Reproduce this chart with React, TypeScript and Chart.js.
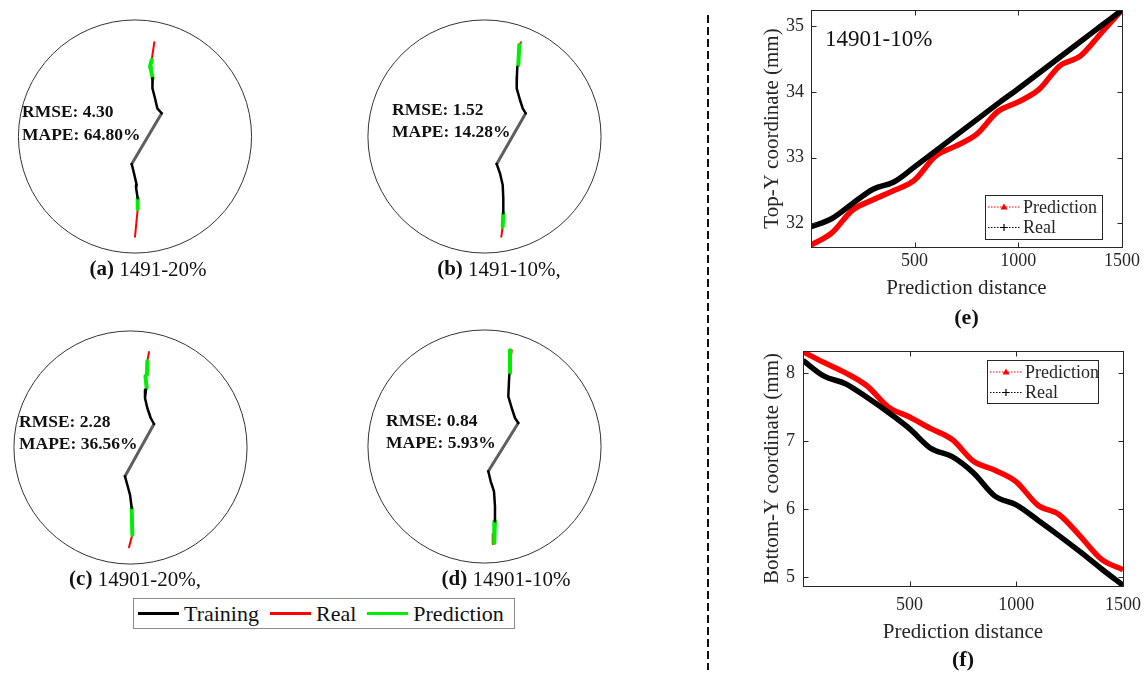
import React, { useEffect, useRef } from "react";
import { Chart, registerables } from "chart.js";

Chart.register(...registerables);

const SERIF = "'Liberation Serif', 'Times New Roman', Times, serif";

// ---------------- Left panels: crack traces (mm, crack origin 0,0) ----------------
type Pt = [number, number] | null;
const specimenRadiusMm = 47;
const specimenCentreX = [-2.82, -8.27, -3.43, -6.25];
const specimenCentreY = [1.41, 1.41, 0.6, 0.2];

const crackA_training: Pt[] = [[4.31, 24.88], [4.1, 22.6], [4.31, 20.85], [5.24, 16.81], [6.17, 12.78], [7.94, 10.77], null, [-4.15, -9.68], [-3.23, -13.43], [-2.14, -18.15], [-2.4, -19.3], [-1.73, -23.51]];
const crackA_notch: Pt[] = [[7.94, 10.77], [-4.15, -9.68]];
const crackA_prediction: Pt[] = [[3.91, 32.26], [3.23, 29.56], [3.6, 28.4], [4.31, 24.88], null, [-1.73, -23.51], [-1.73, -27.82]];
const crackA_real: Pt[] = [[4.96, 39.4], [3.91, 32.26], null, [-1.73, -27.82], [-2.82, -38.99]];

const crackB_training: Pt[] = [[4.96, 29.56], [4.8, 25.5], [4.72, 20.85], [6.05, 16.13], [7.14, 12.78], [8.35, 10.77], null, [-3.35, -9.68], [-2.02, -13.43], [-0.93, -18.15], [-0.69, -23.51], [-0.69, -29.56]];
const crackB_notch: Pt[] = [[8.35, 10.77], [-3.35, -9.68]];
const crackB_prediction: Pt[] = [[5.77, 38.31], [5.36, 30.24], null, [-0.69, -29.56], [-0.93, -34.96]];
const crackB_real: Pt[] = [[6.45, 39.4], [5.77, 38.31], null, [-0.93, -34.96], [-1.49, -38.99]];

const crackC_training: Pt[] = [[2.82, 23.91], [2.42, 20.56], [3.35, 16.53], [4.72, 12.5], [6.05, 10.08], null, [-5.65, -11.0], [-4.72, -14.4], [-3.63, -18.43], [-2.94, -23.79]];
const crackC_notch: Pt[] = [[6.05, 10.08], [-5.65, -11.0]];
const crackC_prediction: Pt[] = [[3.35, 35.36], [3.2, 30.0], [2.6, 29.4], [3.1, 24.6], null, [-2.94, -23.79], [-2.7, -34.56]];
const crackC_real: Pt[] = [[4.03, 39.11], [3.35, 35.36], null, [-2.7, -34.56], [-4.03, -39.64]];

const crackD_training: Pt[] = [[3.75, 29.15], [3.35, 20.44], [4.72, 15.73], [6.05, 11.69], [7.38, 9.68], null, [-4.72, -9.8], [-3.75, -13.83], [-2.42, -17.86], [-2.02, -23.91], [-2.02, -29.96]];
const crackD_notch: Pt[] = [[7.38, 9.68], [-4.72, -9.8]];
const crackD_prediction: Pt[] = [[4.03, 38.99], [4.03, 29.84], null, [-2.02, -29.96], [-2.3, -38.71]];
const crackD_real: Pt[] = [[4.72, 38.99], [4.44, 36.69], null, [-2.94, -35.08], [-2.94, -39.11]];

const panelLetters = ["(a)", "(b)", "(c)", "(d)"];
const panelCases = ["1491-20%", "1491-10%,", "14901-20%,", "14901-10%"];
const panelRmse = ["4.30", "1.52", "2.28", "0.84"];
const panelMape = ["64.80%", "14.28%", "36.56%", "5.93%"];

const crackLegendLabels = ["Training", "Real", "Prediction"];
const crackLegendColors = ["#000000", "#ff0000", "#00ee00"];

// ---------------- Right panels: predicted vs real coordinates ----------------
const predictionDistance = [1, 100, 200, 300, 400, 500, 600, 700, 800, 900, 1000, 1100, 1200, 1300, 1400, 1500];
const topYPrediction = [31.67, 31.85, 32.2, 32.36, 32.5, 32.66, 33.02, 33.18, 33.36, 33.7, 33.85, 34.04, 34.4, 34.55, 34.9, 35.25];
const topYReal = [31.95, 32.07, 32.3, 32.52, 32.63, 32.86, 33.1, 33.34, 33.58, 33.82, 34.05, 34.29, 34.53, 34.77, 35.01, 35.25];
const bottomYPrediction = [8.31, 8.15, 8.0, 7.81, 7.5, 7.35, 7.18, 7.02, 6.7, 6.57, 6.4, 6.06, 5.92, 5.6, 5.26, 5.11];
const bottomYReal = [8.18, 7.95, 7.84, 7.64, 7.42, 7.18, 6.89, 6.77, 6.53, 6.19, 6.06, 5.84, 5.61, 5.37, 5.12, 4.88];
const distanceTicks = [500, 1000, 1500];
const topYTicks = [32, 33, 34, 35];
const bottomYTicks = [5, 6, 7, 8];

// ---------------- Layout (pixels) ----------------
const PX_PER_MM = 2.48;
const PANEL_W = 290;
const PANEL_H = 310;
const PANEL_LEFT = 145;
const PANEL_TOP = 135;
const panelLayout = [
  { ox: 142, oy: 140, textX: 22, rmseY: 112, mapeY: 135, capX: 148, capY: 270 },
  { ox: 505, oy: 140, textX: 392, rmseY: 110, mapeY: 132, capX: 499, capY: 270 },
  { ox: 139, oy: 449, textX: 19, rmseY: 422, mapeY: 444, capX: 135, capY: 580 },
  { ox: 500, oy: 447, textX: 386, rmseY: 421, mapeY: 443, capX: 506, capY: 580 },
];

function toXY(pts: Pt[]) {
  return pts.map((p) => (p ? { x: p[0], y: p[1] } : { x: null, y: null }));
}

const specimenPlugin = {
  id: "specimen",
  beforeDatasetsDraw(chart: any, _args: any, opts: any) {
    const { ctx, scales } = chart;
    const cx = scales.x.getPixelForValue(opts.centreX);
    const cy = scales.y.getPixelForValue(opts.centreY);
    const r = scales.x.getPixelForValue(opts.centreX + specimenRadiusMm) - cx;
    ctx.save();
    ctx.beginPath();
    ctx.arc(cx, cy, r, 0, Math.PI * 2);
    ctx.lineWidth = 1;
    ctx.strokeStyle = "#333";
    ctx.stroke();
    ctx.restore();
  },
  afterDatasetsDraw(chart: any, _args: any, opts: any) {
    const { ctx } = chart;
    const dx = -opts.canvasLeft;
    const dy = -opts.canvasTop;
    ctx.save();
    ctx.fillStyle = "#111";
    ctx.textBaseline = "middle";
    ctx.textAlign = "left";
    ctx.font = `bold 17.5px ${SERIF}`;
    ctx.fillText(`RMSE: ${opts.rmse}`, opts.textX + dx, opts.rmseY + dy);
    ctx.fillText(`MAPE: ${opts.mape}`, opts.textX + dx, opts.mapeY + dy);
    // caption
    ctx.font = `bold 21px ${SERIF}`;
    const w1 = ctx.measureText(opts.letter + " ").width;
    ctx.font = `21px ${SERIF}`;
    const w2 = ctx.measureText(opts.caseText).width;
    const x0 = opts.capX + dx - (w1 + w2) / 2;
    const yc = opts.capY + dy;
    ctx.font = `bold 21px ${SERIF}`;
    ctx.fillText(opts.letter, x0, yc);
    ctx.font = `21px ${SERIF}`;
    ctx.fillText(opts.caseText, x0 + w1, yc);
    ctx.restore();
  },
};

function crackDataset(label: string, pts: Pt[], color: string, width: number) {
  return {
    label,
    data: toXY(pts),
    showLine: true,
    borderColor: color,
    backgroundColor: color,
    borderWidth: width,
    pointRadius: 0,
    borderCapStyle: "round",
    borderJoinStyle: "round",
    spanGaps: false,
    tension: 0,
  };
}

function CrackPanel({ index, training, notch, prediction, real }: any) {
  const ref = useRef<HTMLCanvasElement>(null);
  const lay = panelLayout[index];
  const canvasLeft = lay.ox - PANEL_LEFT;
  const canvasTop = lay.oy - PANEL_TOP;
  useEffect(() => {
    const k = PX_PER_MM;
    const chart = new Chart(ref.current as HTMLCanvasElement, {
      type: "scatter",
      data: {
        datasets: [
          crackDataset(crackLegendLabels[0], training, "#000000", 2.5),
          crackDataset("Notch", notch, "#5e5e5e", 3),
          crackDataset(crackLegendLabels[2], prediction, crackLegendColors[2], 4),
          crackDataset(crackLegendLabels[1], real, crackLegendColors[1], 2),
        ] as any,
      },
      options: {
        animation: false,
        responsive: false,
        events: [],
        layout: { padding: 0 },
        scales: {
          x: { type: "linear", display: false, min: -PANEL_LEFT / k, max: (PANEL_W - PANEL_LEFT) / k },
          y: { type: "linear", display: false, min: -(PANEL_H - PANEL_TOP) / k, max: PANEL_TOP / k },
        },
        plugins: {
          legend: { display: false },
          tooltip: { enabled: false },
          specimen: {
            rmse: panelRmse[index],
            mape: panelMape[index],
            letter: panelLetters[index],
            caseText: panelCases[index],
            centreX: specimenCentreX[index],
            centreY: specimenCentreY[index],
            canvasLeft,
            canvasTop,
            textX: lay.textX,
            rmseY: lay.rmseY,
            mapeY: lay.mapeY,
            capX: lay.capX,
            capY: lay.capY,
          },
        } as any,
      },
      plugins: [specimenPlugin as any],
    });
    return () => chart.destroy();
  }, []);
  return (
    <canvas
      ref={ref}
      width={PANEL_W}
      height={PANEL_H}
      style={{ position: "absolute", left: canvasLeft, top: canvasTop, width: PANEL_W, height: PANEL_H }}
    />
  );
}

function CrackLegend() {
  return (
    <div
      style={{
        position: "absolute",
        left: 133,
        top: 598,
        width: 382,
        height: 31,
        boxSizing: "border-box",
        border: "1px solid #8a8a8a",
        background: "#fff",
        display: "flex",
        alignItems: "center",
        paddingLeft: 4,
        fontFamily: SERIF,
        fontSize: 22,
        color: "#111",
        whiteSpace: "nowrap",
      }}
    >
      {crackLegendLabels.map((lab, i) => (
        <div key={lab} style={{ display: "flex", alignItems: "center", marginLeft: i === 0 ? 0 : 11 }}>
          <div style={{ width: 41, height: 3, background: crackLegendColors[i], marginRight: 5 }} />
          <span>{lab}</span>
        </div>
      ))}
    </div>
  );
}

// ---------------- Right charts ----------------
const matlabAxesPlugin = {
  id: "matlabAxes",
  afterDraw(chart: any, _args: any, opts: any) {
    const { ctx, chartArea: a, scales } = chart;
    const x = scales.x;
    const y = scales.y;
    ctx.save();
    ctx.strokeStyle = "#262626";
    ctx.lineWidth = 1;
    const L = Math.round(a.left) + 0.5;
    const T = Math.round(a.top) + 0.5;
    const R = Math.round(a.right) + 0.5;
    const B = Math.round(a.bottom) + 0.5;
    ctx.strokeRect(L, T, R - L, B - T);
    const tl = 5;
    ctx.beginPath();
    x.ticks.forEach((t: any) => {
      const px = Math.round(x.getPixelForValue(t.value)) + 0.5;
      ctx.moveTo(px, B);
      ctx.lineTo(px, B - tl);
      ctx.moveTo(px, T);
      ctx.lineTo(px, T + tl);
    });
    y.ticks.forEach((t: any) => {
      const py = Math.round(y.getPixelForValue(t.value)) + 0.5;
      ctx.moveTo(L, py);
      ctx.lineTo(L + tl, py);
      ctx.moveTo(R, py);
      ctx.lineTo(R - tl, py);
    });
    ctx.stroke();

    if (opts.inset) {
      ctx.fillStyle = "#111";
      ctx.font = `23px ${SERIF}`;
      ctx.textAlign = "left";
      ctx.textBaseline = "middle";
      ctx.fillText(opts.inset, a.left + 14, a.top + 30);
    }

    // legend
    const lb = opts.legendBox;
    ctx.fillStyle = "#fff";
    ctx.fillRect(lb.x, lb.y, lb.w, lb.h);
    ctx.strokeStyle = "#262626";
    ctx.strokeRect(lb.x + 0.5, lb.y + 0.5, lb.w, lb.h);
    chart.data.datasets.forEach((ds: any, i: number) => {
      const ry = lb.y + 12 + i * 20.5;
      ctx.save();
      ctx.setLineDash([1.5, 1.5]);
      ctx.strokeStyle = ds.borderColor;
      ctx.lineWidth = 1;
      ctx.beginPath();
      ctx.moveTo(lb.x + 3, ry);
      ctx.lineTo(lb.x + 35, ry);
      ctx.stroke();
      ctx.restore();
      const mx = lb.x + 19;
      if (ds.pointStyle === "triangle") {
        ctx.fillStyle = ds.borderColor;
        ctx.beginPath();
        ctx.moveTo(mx, ry - 3.5);
        ctx.lineTo(mx + 3.5, ry + 2.5);
        ctx.lineTo(mx - 3.5, ry + 2.5);
        ctx.closePath();
        ctx.fill();
      } else {
        ctx.strokeStyle = ds.borderColor;
        ctx.lineWidth = 1.2;
        ctx.beginPath();
        ctx.moveTo(mx - 3.5, ry);
        ctx.lineTo(mx + 3.5, ry);
        ctx.moveTo(mx, ry - 3.5);
        ctx.lineTo(mx, ry + 3.5);
        ctx.stroke();
      }
      ctx.fillStyle = "#262626";
      ctx.font = `18px ${SERIF}`;
      ctx.textAlign = "left";
      ctx.textBaseline = "middle";
      ctx.fillText(ds.label, lb.x + 38, ry + 1);
    });

    // panel caption
    ctx.fillStyle = "#111";
    ctx.font = `bold 22px ${SERIF}`;
    ctx.textAlign = "center";
    ctx.textBaseline = "middle";
    ctx.fillText(opts.caption, (a.left + a.right) / 2, opts.captionY);
    ctx.restore();
  },
};

function DistanceChart({ cfg }: any) {
  const ref = useRef<HTMLCanvasElement>(null);
  useEffect(() => {
    const tickFont = { family: SERIF, size: 18 };
    const titleFont = { family: SERIF, size: 21 };
    const chart = new Chart(ref.current as HTMLCanvasElement, {
      type: "line",
      data: {
        datasets: [
          {
            label: "Prediction",
            data: predictionDistance.map((d, i) => ({ x: d, y: cfg.prediction[i] })),
            borderColor: "#ff0000",
            backgroundColor: "#ff0000",
            borderWidth: 5.5,
            pointRadius: 0,
            pointStyle: "triangle",
            cubicInterpolationMode: "monotone",
            clip: 0,
            order: 1,
          },
          {
            label: "Real",
            data: predictionDistance.map((d, i) => ({ x: d, y: cfg.real[i] })),
            borderColor: "#000000",
            backgroundColor: "#000000",
            borderWidth: 5.5,
            pointRadius: 0,
            pointStyle: "cross",
            cubicInterpolationMode: "monotone",
            clip: 0,
            order: 0,
          },
        ] as any,
      },
      options: {
        animation: false,
        responsive: false,
        events: [],
        layout: { padding: cfg.padding },
        scales: {
          x: {
            type: "linear",
            min: 1,
            max: 1500,
            grid: { display: false, drawTicks: false },
            border: { display: false },
            afterBuildTicks: (s: any) => {
              s.ticks = distanceTicks.map((v) => ({ value: v }));
            },
            afterFit: (s: any) => {
              s.height = cfg.xHeight;
              s.paddingLeft = 0;
              s.paddingRight = 0;
            },
            ticks: {
              font: tickFont,
              color: "#262626",
              padding: cfg.xTickPad,
              maxRotation: 0,
              autoSkip: false,
              callback: (v: any) => String(v),
            },
            title: { display: true, text: "Prediction distance", font: titleFont, color: "#262626", padding: 0 },
          },
          y: {
            type: "linear",
            min: cfg.yMin,
            max: cfg.yMax,
            grid: { display: false, drawTicks: false },
            border: { display: false },
            afterBuildTicks: (s: any) => {
              s.ticks = cfg.yTicks.map((v: number) => ({ value: v }));
            },
            afterFit: (s: any) => {
              s.width = cfg.yWidth;
              s.paddingTop = 0;
              s.paddingBottom = 0;
            },
            ticks: { font: tickFont, color: "#262626", padding: cfg.yTickPad, autoSkip: false, callback: (v: any) => String(v) },
            title: { display: true, text: cfg.yTitle, font: titleFont, color: "#262626", padding: 0 },
          },
        },
        plugins: {
          legend: { display: false },
          tooltip: { enabled: false },
          matlabAxes: {
            inset: cfg.inset,
            legendBox: cfg.legendBox,
            caption: cfg.caption,
            captionY: cfg.captionY,
          },
        } as any,
      },
      plugins: [matlabAxesPlugin as any],
    });
    return () => chart.destroy();
  }, []);
  return (
    <canvas
      ref={ref}
      width={cfg.w}
      height={cfg.h}
      style={{ position: "absolute", left: cfg.left, top: cfg.top, width: cfg.w, height: cfg.h }}
    />
  );
}

const topChartCfg = {
  left: 700,
  top: 0,
  w: 446,
  h: 330,
  padding: { left: 60, top: 10, right: 24, bottom: 29.4 },
  yWidth: 51,
  xHeight: 53.6,
  xTickPad: 3,
  yTickPad: 7,
  yMin: 31.64,
  yMax: 35.25,
  yTicks: topYTicks,
  yTitle: "Top-Y coordinate (mm)",
  prediction: topYPrediction,
  real: topYReal,
  inset: "14901-10%",
  legendBox: { x: 285, y: 195, w: 117, h: 44 },
  caption: "(e)",
  captionY: 318,
};

const bottomChartCfg = {
  left: 700,
  top: 330,
  w: 446,
  h: 348,
  padding: { left: 59.4, top: 21, right: 23, bottom: 33.4 },
  yWidth: 43.6,
  xHeight: 58.6,
  xTickPad: 8,
  yTickPad: 8,
  yMin: 4.87,
  yMax: 8.32,
  yTicks: bottomYTicks,
  yTitle: "Bottom-Y coordinate (mm)",
  prediction: bottomYPrediction,
  real: bottomYReal,
  inset: "",
  legendBox: { x: 287, y: 30, w: 111, h: 43 },
  caption: "(f)",
  captionY: 330,
};

const crackSets = [
  { training: crackA_training, notch: crackA_notch, prediction: crackA_prediction, real: crackA_real },
  { training: crackB_training, notch: crackB_notch, prediction: crackB_prediction, real: crackB_real },
  { training: crackC_training, notch: crackC_notch, prediction: crackC_prediction, real: crackC_real },
  { training: crackD_training, notch: crackD_notch, prediction: crackD_prediction, real: crackD_real },
];

export default function App() {
  return (
    <div style={{ position: "absolute", left: 0, top: 0, width: 1146, height: 678, overflow: "hidden", background: "#fff" }}>
      {crackSets.map((s, i) => (
        <CrackPanel key={i} index={i} {...s} />
      ))}
      <CrackLegend />
      <div
        style={{
          position: "absolute",
          left: 707,
          top: 15,
          width: 2,
          height: 655,
          background: "repeating-linear-gradient(to bottom, #111 0px, #111 8px, transparent 8px, transparent 12px)",
        }}
      />
      <DistanceChart cfg={topChartCfg} />
      <DistanceChart cfg={bottomChartCfg} />
    </div>
  );
}
